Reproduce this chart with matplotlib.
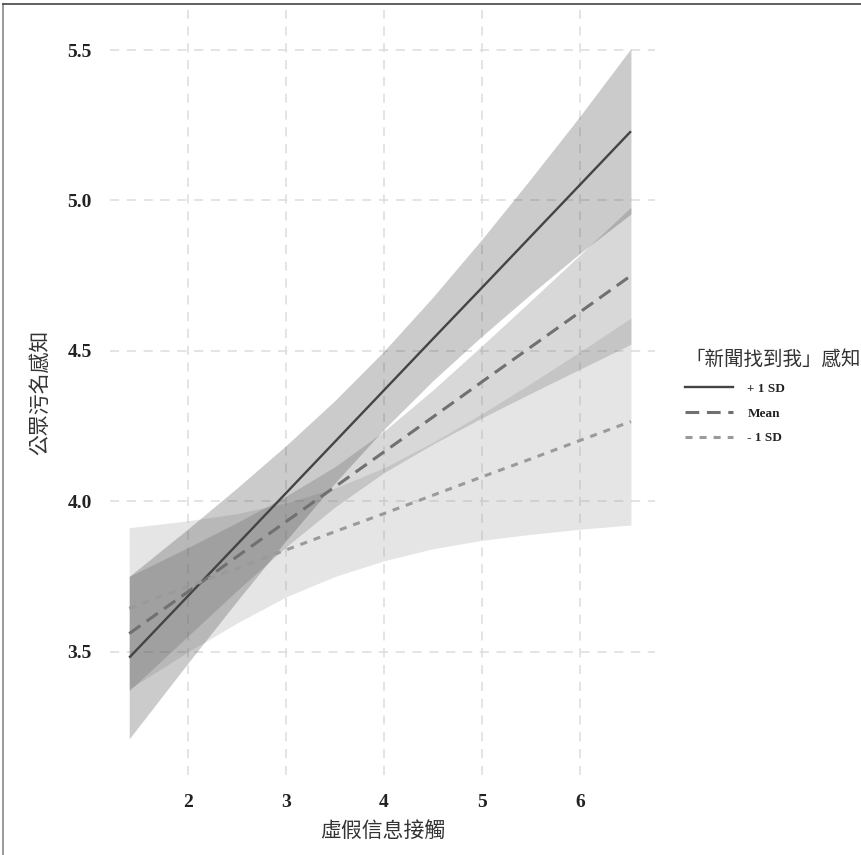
import numpy as np
import matplotlib
matplotlib.use("Agg")
import matplotlib.pyplot as plt
from matplotlib.lines import Line2D
from matplotlib.font_manager import FontProperties

exposure = [1.4, 2.0, 2.5, 3.0, 3.5, 4.0, 4.5, 5.0, 5.5, 6.0, 6.52]

# +1 SD
hi_fit = [3.48, 3.685, 3.856, 4.027, 4.198, 4.369, 4.540, 4.710, 4.881, 5.052, 5.230]
hi_low = [3.21, 3.462, 3.668, 3.869, 4.061, 4.239, 4.401, 4.549, 4.689, 4.824, 4.955]
hi_up = [3.75, 3.908, 4.044, 4.185, 4.335, 4.499, 4.679, 4.871, 5.073, 5.280, 5.505]

# Mean
mid_fit = [3.56, 3.699, 3.816, 3.932, 4.048, 4.164, 4.280, 4.397, 4.513, 4.629, 4.750]
mid_low = [3.37, 3.552, 3.703, 3.848, 3.981, 4.095, 4.190, 4.277, 4.359, 4.439, 4.522]
mid_up = [3.75, 3.846, 3.929, 4.017, 4.115, 4.233, 4.370, 4.517, 4.667, 4.819, 4.978]

# -1 SD
lo_fit = [3.644, 3.717, 3.777, 3.838, 3.899, 3.959, 4.020, 4.081, 4.141, 4.202, 4.265]
lo_low = [3.376, 3.499, 3.595, 3.682, 3.750, 3.802, 3.842, 3.870, 3.890, 3.907, 3.921]
lo_up = [3.912, 3.935, 3.959, 3.994, 4.044, 4.111, 4.196, 4.291, 4.392, 4.497, 4.609]

group_labels = ["+ 1 SD", "Mean", "- 1 SD"]
x_ticks = [2, 3, 4, 5, 6]
y_ticks = [3.5, 4.0, 4.5, 5.0, 5.5]

cjk = "Noto Sans CJK TC"
serif_bold = FontProperties(family="Liberation Serif", weight="bold", size=14)

fig = plt.figure(figsize=(8.62, 8.55), dpi=100)
ax = fig.add_axes([0.1276, 0.0936, 0.6322, 0.8947])

# ribbons
ax.fill_between(exposure, lo_low, lo_up, color="#999999", alpha=0.25, lw=0)
ax.fill_between(exposure, mid_low, mid_up, color="#666666", alpha=0.25, lw=0)
ax.fill_between(exposure, hi_low, hi_up, color="#333333", alpha=0.25, lw=0)

# fitted lines
ax.plot(exposure, hi_fit, color="#444444", lw=1.7, solid_capstyle="butt")
ax.plot(exposure, mid_fit, color="#707070", lw=2.2, dashes=(4.5, 2.5))
ax.plot(exposure, lo_fit, color="#9a9a9a", lw=2.2, dashes=(2.3, 2.3))

ax.set_xlim(1.204, 6.765)
ax.set_ylim(3.09, 5.633)
ax.set_xticks(x_ticks)
ax.set_yticks(y_ticks)
ax.set_xticklabels([str(v) for v in x_ticks])
ax.set_yticklabels(["%.1f" % v for v in y_ticks])
for lab in ax.get_xticklabels() + ax.get_yticklabels():
    lab.set_fontproperties(serif_bold)
    lab.set_color("#222222")
ax.tick_params(axis="both", length=0)
ax.tick_params(axis="x", pad=14)
ax.tick_params(axis="y", pad=13)
for s in ax.spines.values():
    s.set_visible(False)
ax.grid(True, color="#dddddd", lw=1.1, linestyle=(0, (6, 5)))
ax.set_axisbelow(True)

ax.set_xlabel("虛假信息接觸", family=cjk, fontsize=15, color="#333333", labelpad=6)
ax.set_ylabel("公眾污名感知", family=cjk, fontsize=15, color="#333333", labelpad=12)

handles = [
    Line2D([], [], color="#444444", lw=1.7),
    Line2D([], [], color="#707070", lw=2.2, dashes=(4.5, 2.5)),
    Line2D([], [], color="#9a9a9a", lw=2.2, dashes=(2.3, 2.3)),
]
leg = fig.legend(handles, group_labels, loc="upper left", bbox_to_anchor=(0.789, 0.598),
                 frameon=False, title="「新聞找到我」感知",
                 title_fontproperties=FontProperties(family=cjk, size=14),
                 prop=FontProperties(family="Liberation Serif", weight="bold", size=9.5),
                 handlelength=3.6, handletextpad=1.1, labelspacing=0.95,
                 alignment="left", borderaxespad=0)
for t in leg.get_texts():
    t.set_color("#222222")
leg.get_title().set_color("#333333")

# border of the original image (top and left)
fig.add_artist(Line2D([0.004, 0.004], [0.0, 0.995], transform=fig.transFigure, color="#888888", lw=1.2))
fig.add_artist(Line2D([0.004, 1.0], [0.995, 0.995], transform=fig.transFigure, color="#444444", lw=1.2))

fig.savefig("out.png", dpi=100)
